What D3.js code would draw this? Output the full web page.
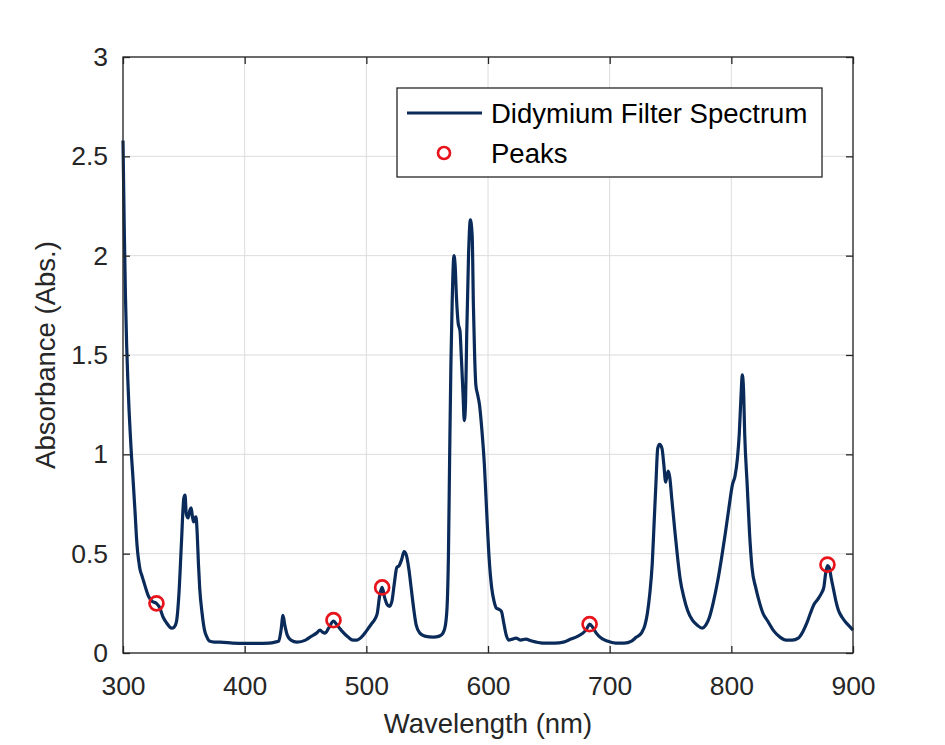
<!DOCTYPE html>
<html>
<head>
<meta charset="utf-8">
<script src="https://cdn.jsdelivr.net/npm/d3@7"></script>
<style>
  html, body { margin: 0; padding: 0; background: #fff; }
  svg { display: block; font-family: "Liberation Sans", Arial, Helvetica, sans-serif; }
</style>
</head>
<body>
<svg id="chart" width="945" height="745"></svg>
<script>
// ---- data ----
const wavelength = [300,301,302,303,304,305,306,307,308,309,310,311,312,313,314,315.5,317,319,321,324,327.5,330,333,336,340,342,344,346,348,350,351,352,353.5,355,356,357,358,359,360,361,362,363,365,367,369,371,375,380,390,400,410,420,425,428,430,431.5,433,435,438,443,450,455,459,462,464,466,469,473,476,480,485,489,492,496,500,504,507,509,511,513,515,517,519,521,523,525,527,529,531,533,535,537,539,541,544,548,555,560,563,565,566.5,567.5,568.5,569.5,570.5,572,573,574,575.5,577,578,579.5,580.5,581.5,582.5,584,585.5,587,588,589,590,591.5,593,595,597,599,601,603,605,607,609,611,613,615,617,620,623,627,631,636,645,655,662,668,674,678,681,683.5,686,689,693,698,705,712,718,722,726,729,731,733,735,736.5,738,739.5,741,743,744.5,746,748,749.5,751,753.5,756,758,761,764,768,772,776,779,782,785,789,792,795,798,801,803,805,806.5,808,809,810,811,813,815,817,820,822,826,830,835,840,845,850,855,859,862,865,868,871,874,876,877.5,879,880.5,882,884,886,888,891,894,897,900];
const absorbance = [2.58,2.15,1.8,1.55,1.37,1.22,1.1,0.99,0.9,0.8,0.7,0.59,0.51,0.46,0.42,0.39,0.36,0.32,0.285,0.26,0.25,0.23,0.18,0.15,0.125,0.13,0.16,0.3,0.55,0.78,0.795,0.7,0.68,0.72,0.73,0.69,0.66,0.68,0.685,0.6,0.45,0.33,0.2,0.115,0.08,0.06,0.055,0.055,0.05,0.048,0.048,0.05,0.055,0.06,0.12,0.19,0.14,0.09,0.065,0.055,0.065,0.085,0.1,0.115,0.105,0.1,0.125,0.16,0.14,0.11,0.08,0.065,0.065,0.08,0.11,0.145,0.17,0.2,0.29,0.33,0.28,0.245,0.235,0.26,0.35,0.43,0.44,0.47,0.51,0.49,0.42,0.32,0.22,0.14,0.1,0.085,0.08,0.085,0.1,0.14,0.25,0.5,1.0,1.45,1.75,2.0,1.95,1.8,1.66,1.62,1.5,1.3,1.17,1.25,1.6,2.0,2.18,2.1,1.75,1.5,1.35,1.3,1.25,1.12,0.95,0.7,0.47,0.33,0.26,0.225,0.22,0.21,0.15,0.09,0.065,0.07,0.075,0.065,0.07,0.06,0.05,0.05,0.055,0.07,0.085,0.1,0.12,0.145,0.13,0.1,0.075,0.06,0.05,0.05,0.06,0.08,0.1,0.14,0.2,0.3,0.45,0.65,0.85,1.03,1.05,1.03,0.95,0.86,0.915,0.88,0.78,0.62,0.47,0.37,0.28,0.215,0.165,0.14,0.125,0.14,0.18,0.25,0.37,0.48,0.6,0.73,0.85,0.89,0.98,1.1,1.3,1.4,1.33,1.1,0.85,0.6,0.43,0.33,0.28,0.2,0.16,0.11,0.08,0.065,0.065,0.075,0.11,0.15,0.2,0.245,0.27,0.3,0.33,0.4,0.44,0.43,0.38,0.32,0.26,0.215,0.18,0.155,0.135,0.115];
const peakWavelength = [327.5, 473, 513, 683.5, 879];
const peakAbsorbance = [0.25, 0.165, 0.33, 0.145, 0.445];
const xTicks = [300, 400, 500, 600, 700, 800, 900];
const yTicks = [0, 0.5, 1, 1.5, 2, 2.5, 3];
const seriesNames = ["Didymium Filter Spectrum", "Peaks"];
const xLabel = "Wavelength (nm)";
const yLabel = "Absorbance (Abs.)";

// ---- layout ----
const svg = d3.select("#chart");
const L = 123, R = 853, T = 57, B = 653;
const x = d3.scaleLinear().domain([300, 900]).range([L, R]);
const y = d3.scaleLinear().domain([0, 3]).range([B, T]);
const axisColor = "#262626";
const lineColor = "#0a2b5a";
const peakColor = "#e8141c";

// grid
const grid = svg.append("g");
grid.selectAll(".gx").data(xTicks).enter().append("line")
  .attr("x1", d => x(d)).attr("x2", d => x(d)).attr("y1", T).attr("y2", B)
  .attr("stroke", "#dcdcdc").attr("stroke-width", 1);
grid.selectAll(".gy").data(yTicks).enter().append("line")
  .attr("x1", L).attr("x2", R).attr("y1", d => y(d)).attr("y2", d => y(d))
  .attr("stroke", "#dcdcdc").attr("stroke-width", 1);

// spectrum line
const pts = wavelength.map((w, i) => [w, absorbance[i]]);
const line = d3.line().x(d => x(d[0])).y(d => y(d[1])).curve(d3.curveMonotoneX);
svg.append("path").datum(pts).attr("d", line)
  .attr("fill", "none").attr("stroke", lineColor).attr("stroke-width", 3.2)
  .attr("stroke-linejoin", "round");

// peaks
svg.selectAll(".peak").data(peakWavelength).enter().append("circle")
  .attr("cx", d => x(d)).attr("cy", (d, i) => y(peakAbsorbance[i]))
  .attr("r", 7).attr("fill", "none").attr("stroke", peakColor).attr("stroke-width", 2.7);

// axes (box with inward ticks on all sides)
const fmt = d => String(d);
const ax = svg.append("g").attr("transform", `translate(0,${B})`)
  .call(d3.axisBottom(x).tickValues(xTicks).tickFormat(fmt).tickSizeInner(-7).tickSizeOuter(0).tickPadding(16));
const axT = svg.append("g").attr("transform", `translate(0,${T})`)
  .call(d3.axisTop(x).tickValues(xTicks).tickFormat("").tickSizeInner(-7).tickSizeOuter(0));
const ay = svg.append("g").attr("transform", `translate(${L},0)`)
  .call(d3.axisLeft(y).tickValues(yTicks).tickFormat(fmt).tickSizeInner(-7).tickSizeOuter(0).tickPadding(15));
const ayR = svg.append("g").attr("transform", `translate(${R},0)`)
  .call(d3.axisRight(y).tickValues(yTicks).tickFormat("").tickSizeInner(-7).tickSizeOuter(0));
[ax, axT, ay, ayR].forEach(g => {
  g.select(".domain").remove();
  g.selectAll(".tick line").attr("stroke", axisColor).attr("stroke-width", 1.3);
  g.selectAll(".tick text").attr("fill", "#262626").style("font-size", "26.5px")
    .style("font-family", "'Liberation Sans', Arial, sans-serif");
});
ax.selectAll(".tick text").attr("dy", "0.71em").attr("y", 23);
svg.append("rect").attr("x", L).attr("y", T).attr("width", R - L).attr("height", B - T)
  .attr("fill", "none").attr("stroke", axisColor).attr("stroke-width", 1.3);

// axis labels
svg.append("text").attr("x", (L + R) / 2).attr("y", 733).attr("text-anchor", "middle")
  .attr("fill", "#262626").style("font-size", "27.5px").text(xLabel);
svg.append("text").attr("transform", `translate(55,${(T + B) / 2}) rotate(-90)`)
  .attr("text-anchor", "middle").attr("fill", "#262626").style("font-size", "27.5px").text(yLabel);

// legend
const lg = svg.append("g");
lg.append("rect").attr("x", 397).attr("y", 88).attr("width", 425).attr("height", 89)
  .attr("fill", "#fff").attr("stroke", axisColor).attr("stroke-width", 1.3);
lg.append("line").attr("x1", 407).attr("x2", 482).attr("y1", 113).attr("y2", 113)
  .attr("stroke", lineColor).attr("stroke-width", 3.2);
lg.append("circle").attr("cx", 444).attr("cy", 153).attr("r", 6)
  .attr("fill", "none").attr("stroke", peakColor).attr("stroke-width", 2.7);
lg.append("text").attr("x", 491).attr("y", 123).attr("fill", "#000").style("font-size", "27.5px").text(seriesNames[0]);
lg.append("text").attr("x", 491).attr("y", 163).attr("fill", "#000").style("font-size", "27.5px").text(seriesNames[1]);
</script>
</body>
</html>
